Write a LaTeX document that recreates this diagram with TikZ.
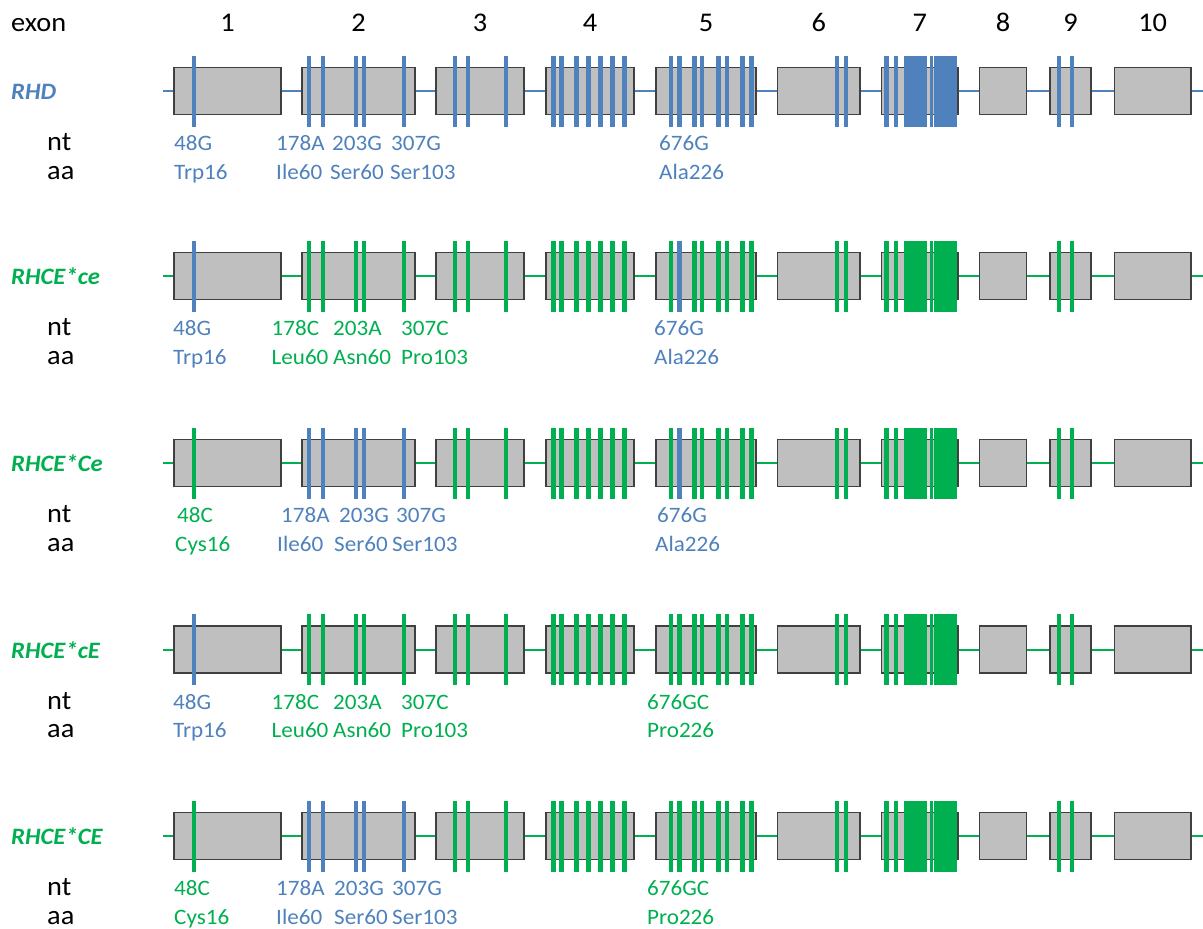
\documentclass[tikz,border=0pt]{standalone}
\usepackage{fontspec}
\setmainfont{Carlito}[FakeStretch=1.05]
\definecolor{rhblue}{HTML}{4F81BD}
\definecolor{rhgreen}{HTML}{00B050}
\definecolor{exfill}{HTML}{BFBFBF}
\definecolor{exdraw}{HTML}{404040}
\newcommand\exonrow[6]{%
  \coordinate (#1s) at (163,#2);
  \coordinate (#1t) at (1203,#2);
  \draw[rowline,#3] (#1s) -- (#1t);
  \foreach \i/\cx/\w in {1/227.5/107,2/358.5/113,3/480/88,4/590/88,5/706/100,6/818.8/82.4,7/919.85/76.3,8/1003.1/47.2,9/1070.5/41,10/1152.7/76.6}
    {\node[exonbox,minimum width=\w] (#1e\i) at (\cx,#2) {};}
  \draw[bar,#4] (194,#2-35.5) -- ++(0,71);
  \foreach \bx in {309,323,356,364,404}
    {\draw[bar,#5] (\bx,#2-35.5) -- ++(0,71);}
  \foreach \bx in {455,468,506,553.3,561.7,576.7,588.3,600.7,612.7,624.3,670.9,694.3,702.2,718.5,727.1,742.7,751.6,837,846,886.3,896,1059,1072}
    {\draw[bar,#3] (\bx,#2-35.5) -- ++(0,71);}
  \draw[bar,#6] (679.5,#2-35.5) -- ++(0,71);
  \fill[#3] (904,#2-35.5) rectangle (927.3,#2+35.5);
  \fill[#3] (929.6,#2-35.5) rectangle (933,#2+35.5);
  \fill[#3] (934.3,#2-35.5) rectangle (957.3,#2+35.5);
}
\begin{document}
\begin{tikzpicture}[x=1pt,y=-1pt,
  rowline/.style={line width=2pt},
  exonbox/.style={draw=exdraw,fill=exfill,line width=1.3pt,minimum height=47,inner sep=0},
  bar/.style={line width=4.5pt},
  hdr/.style={font=\fontsize{27}{31}\selectfont,anchor=base,inner sep=0},
  gname/.style={font=\bfseries\itshape\fontsize{23.5}{28}\selectfont,anchor=base west,inner sep=0},
  ntaa/.style={font=\fontsize{27}{31}\selectfont,anchor=base west,inner sep=0},
  lab/.style={font=\fontsize{22}{26}\selectfont,anchor=base west,inner sep=0}]
\useasboundingbox (0,0) rectangle (1203,929);
\fill[white] (0,0) rectangle (1203,929);
% rows
\exonrow{r1}{91}{rhblue}{rhblue}{rhblue}{rhblue}
\exonrow{r2}{276}{rhgreen}{rhblue}{rhgreen}{rhblue}
\exonrow{r3}{463}{rhgreen}{rhgreen}{rhblue}{rhblue}
\exonrow{r4}{649.5}{rhgreen}{rhblue}{rhgreen}{rhgreen}
\exonrow{r5}{836}{rhgreen}{rhgreen}{rhblue}{rhgreen}
% header
\coordinate (hy) at (0,31);
\node[hdr,anchor=base west] (hexon) at (11,31) {exon};
\foreach \i in {1,...,10} {\node[hdr] (h\i) at (r1e\i |- hy) {\i};}
% gene names
\node[gname,rhblue] (g1) at (11,99.7) {RHD};
\node[gname,rhgreen] (g2) at (11,284.7) {RHCE*ce};
\node[gname,rhgreen] (g3) at (11,471.7) {RHCE*Ce};
\node[gname,rhgreen] (g4) at (11,658.2) {RHCE*cE};
\node[gname,rhgreen] (g5) at (11,844.7) {RHCE*CE};
% nt / aa
\foreach \r/\y in {1/91,2/276,3/463,4/649.5,5/836} {
  \node[ntaa] (nt\r) at (47,\y+59.5) {nt};
  \node[ntaa] (aa\r) at (47,\y+88) {aa};
}
% row 1 labels
\node[lab,rhblue] (l1a) at (174,150.5) {48G};
\node[lab,rhblue] (l1b) at (276,150.5) {178A};
\node[lab,rhblue] (l1c) at (332,150.5) {203G};
\node[lab,rhblue] (l1d) at (391,150.5) {307G};
\node[lab,rhblue] (l1e) at (659,150.5) {676G};
\node[lab,rhblue] (m1a) at (174,179) {Trp16};
\node[lab,rhblue] (m1b) at (276,179) {Ile60};
\node[lab,rhblue] (m1c) at (330,179) {Ser60};
\node[lab,rhblue] (m1d) at (390,179) {Ser103};
\node[lab,rhblue] (m1e) at (659,179) {Ala226};
% row 2 labels
\node[lab,rhblue] (l2a) at (173,335.5) {48G};
\node[lab,rhgreen] (l2b) at (271.5,335.5) {178C};
\node[lab,rhgreen] (l2c) at (333,335.5) {203A};
\node[lab,rhgreen] (l2d) at (401,335.5) {307C};
\node[lab,rhblue] (l2e) at (654,335.5) {676G};
\node[lab,rhblue] (m2a) at (173,364) {Trp16};
\node[lab,rhgreen] (m2b) at (271.5,364) {Leu60};
\node[lab,rhgreen] (m2c) at (333,364) {Asn60};
\node[lab,rhgreen] (m2d) at (401,364) {Pro103};
\node[lab,rhblue] (m2e) at (654,364) {Ala226};
% row 3 labels
\node[lab,rhgreen] (l3a) at (177,522.5) {48C};
\node[lab,rhblue] (l3b) at (281,522.5) {178A};
\node[lab,rhblue] (l3c) at (339,522.5) {203G};
\node[lab,rhblue] (l3d) at (396,522.5) {307G};
\node[lab,rhblue] (l3e) at (657,522.5) {676G};
\node[lab,rhgreen] (m3a) at (175,551) {Cys16};
\node[lab,rhblue] (m3b) at (277,551) {Ile60};
\node[lab,rhblue] (m3c) at (334,551) {Ser60};
\node[lab,rhblue] (m3d) at (392,551) {Ser103};
\node[lab,rhblue] (m3e) at (655,551) {Ala226};
% row 4 labels
\node[lab,rhblue] (l4a) at (173,709) {48G};
\node[lab,rhgreen] (l4b) at (271.5,709) {178C};
\node[lab,rhgreen] (l4c) at (333,709) {203A};
\node[lab,rhgreen] (l4d) at (401,709) {307C};
\node[lab,rhgreen] (l4e) at (647,709) {676GC};
\node[lab,rhblue] (m4a) at (173,737.5) {Trp16};
\node[lab,rhgreen] (m4b) at (271.5,737.5) {Leu60};
\node[lab,rhgreen] (m4c) at (333,737.5) {Asn60};
\node[lab,rhgreen] (m4d) at (401,737.5) {Pro103};
\node[lab,rhgreen] (m4e) at (647,737.5) {Pro226};
% row 5 labels
\node[lab,rhgreen] (l5a) at (174,895.5) {48C};
\node[lab,rhblue] (l5b) at (276,895.5) {178A};
\node[lab,rhblue] (l5c) at (334,895.5) {203G};
\node[lab,rhblue] (l5d) at (392,895.5) {307G};
\node[lab,rhgreen] (l5e) at (647,895.5) {676GC};
\node[lab,rhgreen] (m5a) at (174,924) {Cys16};
\node[lab,rhblue] (m5b) at (276,924) {Ile60};
\node[lab,rhblue] (m5c) at (334,924) {Ser60};
\node[lab,rhblue] (m5d) at (392,924) {Ser103};
\node[lab,rhgreen] (m5e) at (647,924) {Pro226};
\end{tikzpicture}
\end{document}
